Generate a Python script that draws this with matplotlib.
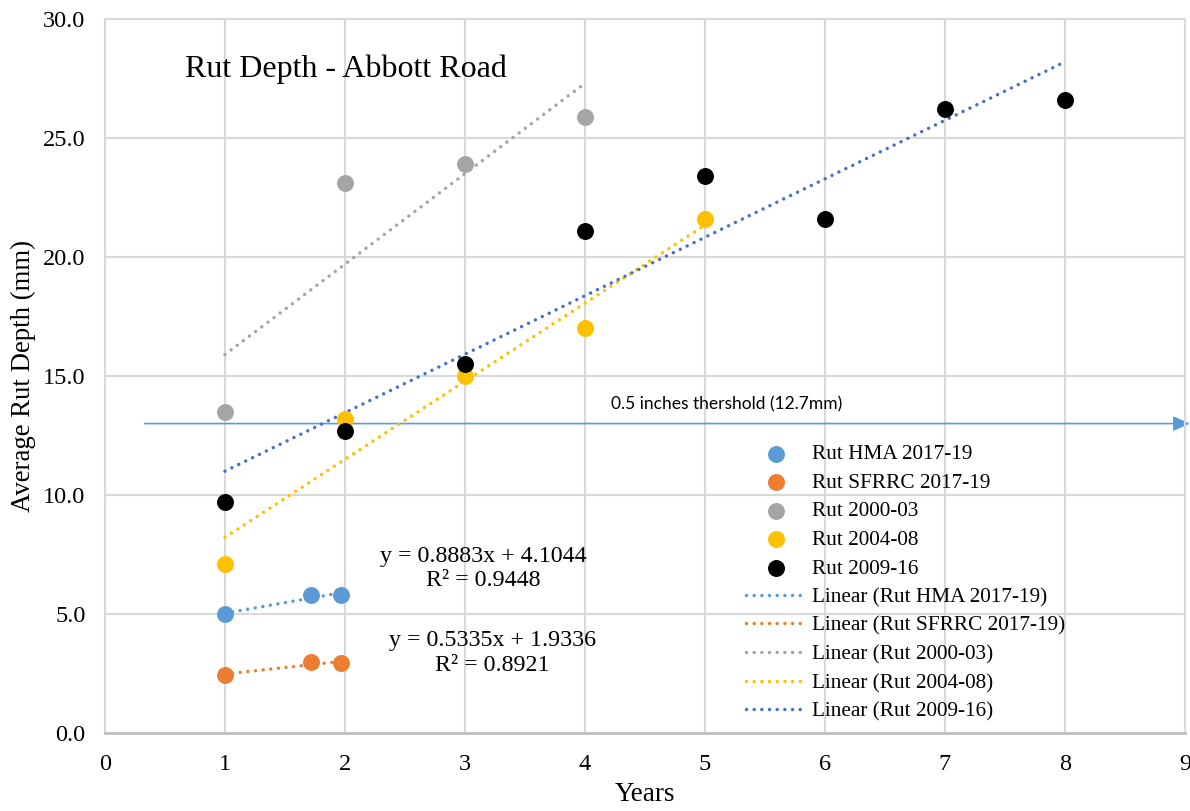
import numpy as np
import matplotlib.pyplot as plt

# data
hma_x = [1, 1.72, 1.97]
hma_y = [5.0, 5.8, 5.8]
sfrrc_x = [1, 1.72, 1.97]
sfrrc_y = [2.45, 2.98, 2.93]
y2000_x = [1, 2, 3, 4]
y2000_y = [13.5, 23.1, 23.9, 25.9]
y2004_x = [1, 2, 3, 4, 5]
y2004_y = [7.1, 13.2, 15.0, 17.0, 21.6]
y2009_x = [1, 2, 3, 4, 5, 6, 7, 8]
y2009_y = [9.7, 12.7, 15.5, 21.1, 23.4, 21.6, 26.2, 26.6]

names = ['Rut HMA 2017-19', 'Rut SFRRC 2017-19', 'Rut 2000-03', 'Rut 2004-08', 'Rut 2009-16']
colors = ['#5B9BD5', '#ED7D31', '#A5A5A5', '#FFC000', '#000000']
trend_colors = ['#5B9BD5', '#ED7D31', '#A5A5A5', '#FFC000', '#4472C4']
series = [(hma_x, hma_y), (sfrrc_x, sfrrc_y), (y2000_x, y2000_y),
          (y2004_x, y2004_y), (y2009_x, y2009_y)]

threshold = 13.0

plt.rcParams['font.family'] = ['Liberation Serif', 'DejaVu Serif']

fig = plt.figure(figsize=(11.9, 8.11), dpi=100)
ax = fig.add_axes([0.0882, 0.0962, 0.9076, 0.8804])

dots = (0, (0.01, 2.2))
scat_handles = []
line_handles = []
for (x, y), name, c, tc in zip(series, names, colors, trend_colors):
    h = ax.scatter(x, y, s=125, color=c, zorder=4, label=name)
    scat_handles.append(h)
    k, b = np.polyfit(x, y, 1)
    xs = np.array([min(x), max(x)])
    l, = ax.plot(xs, k * xs + b, color=tc, lw=2.5, ls=dots,
                 dash_capstyle='round', zorder=3, label='Linear (%s)' % name)
    line_handles.append(l)

# threshold arrow
ax.annotate('', xy=(9.04, threshold), xytext=(0.33, threshold),
            arrowprops=dict(arrowstyle='-|>,head_length=1.0,head_width=0.45',
                            color='#5B9BD5', lw=1.2, shrinkA=0, shrinkB=0),
            annotation_clip=False, zorder=2)
ax.text(5.18, 13.8, '0.5 inches thershold (12.7mm)', ha='center', va='center',
        fontsize=12.5, family=['Lato', 'DejaVu Sans'])

ax.text(0.67, 27.9, 'Rut Depth - Abbott Road', fontsize=23, va='center')
ax.text(3.15, 6.9, 'y = 0.8883x + 4.1044\nR² = 0.9448', ha='center', va='center',
        fontsize=17.3, linespacing=1.2)
ax.text(3.23, 3.36, 'y = 0.5335x + 1.9336\nR² = 0.8921', ha='center', va='center',
        fontsize=17.3, linespacing=1.2)

ax.set_xlim(0, 9)
ax.set_ylim(0, 30)
ax.set_xticks(range(0, 10))
ax.set_yticks(np.arange(0, 30.1, 5))
ax.set_yticklabels(['%.1f' % v for v in np.arange(0, 30.1, 5)])
ax.tick_params(length=0, labelsize=17.5)
ax.tick_params(axis='y', pad=14)
ax.tick_params(axis='x', pad=15)
ax.grid(True, color='#D9D9D9', lw=1.5)
ax.set_axisbelow(True)
for s in ax.spines.values():
    s.set_color('#D9D9D9')
    s.set_linewidth(1.5)
ax.spines['bottom'].set_color('#BFBFBF')
ax.spines['bottom'].set_linewidth(2)

ax.set_xlabel('Years', fontsize=19.5, labelpad=5)
ax.set_ylabel('Average Rut Depth (mm)', fontsize=19.3, labelpad=5)

ax.legend(handles=scat_handles + line_handles, loc='upper left',
          bbox_to_anchor=(0.584, 0.419), frameon=False, fontsize=15.3,
          handlelength=2.8, handletextpad=0.3, labelspacing=0.41,
          borderpad=0, markerscale=1.0)

fig.savefig('out.png', dpi=100)
